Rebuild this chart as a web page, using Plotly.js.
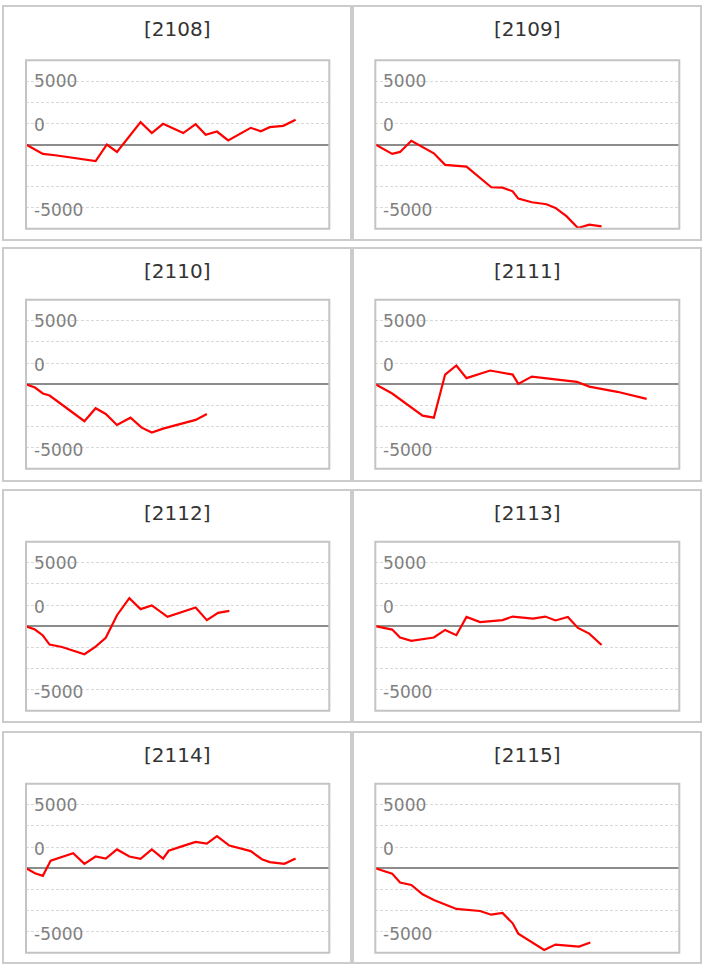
<!DOCTYPE html>
<html>
<head>
<meta charset="utf-8">
<script src="https://cdn.plot.ly/plotly-3.0.1.min.js"></script>
<style>
  html, body { margin: 0; padding: 0; background: #ffffff; }
  #chart { width: 704px; height: 968px; }
</style>
</head>
<body>
<div id="chart"></div>
<script>
// ---------------- DATA ----------------
const contracts = ["2108", "2109", "2110", "2111", "2112", "2113", "2114", "2115"];

const x2108 = [0, 1.5, 2.6, 6.2, 7.2, 8.1, 10.2, 11.2, 12.2, 14.0, 15.1, 16.0, 17.0, 18.0, 20.0, 20.9, 21.7, 22.9, 24.0];
const y2108 = [0, -560, -640, -990, 0, -440, 1330, 680, 1230, 680, 1210, 580, 770, 240, 990, 790, 1030, 1110, 1470];

const x2109 = [0, 1.5, 2.2, 3.2, 5.2, 6.2, 8.1, 10.3, 11.3, 12.2, 12.7, 13.9, 15.2, 16.0, 17.0, 18.0, 19.0, 20.1];
const y2109 = [0, -560, -440, 220, -520, -1210, -1310, -2540, -2560, -2780, -3210, -3430, -3550, -3770, -4270, -4960, -4760, -4860];

const x2110 = [0, 0.8, 1.5, 2.1, 4.0, 5.2, 6.2, 7.1, 8.1, 9.3, 10.3, 11.2, 12.2, 13.7, 15.1, 16.1];
const y2110 = [0, -200, -550, -670, -1600, -2190, -1420, -1760, -2410, -1980, -2570, -2860, -2630, -2350, -2110, -1760];

const x2111 = [0, 1.5, 4.2, 5.2, 6.2, 7.2, 8.1, 10.2, 12.2, 12.7, 13.9, 17.9, 19.0, 21.5, 24.1];
const y2111 = [0, -550, -1860, -1980, 570, 1110, 360, 810, 570, 20, 450, 140, -140, -450, -870];

const x2112 = [0, 0.8, 1.5, 2.1, 3.2, 5.2, 6.2, 7.1, 8.1, 9.2, 10.2, 11.2, 12.6, 15.1, 16.1, 17.1, 18.1];
const y2112 = [0, -200, -550, -1090, -1230, -1660, -1210, -690, 650, 1660, 1010, 1230, 550, 1110, 360, 790, 910];

const x2113 = [0, 1.5, 2.2, 3.2, 5.2, 6.2, 7.2, 8.1, 9.3, 11.3, 12.2, 14.0, 15.1, 16.0, 17.1, 18.0, 19.0, 20.1];
const y2113 = [0, -200, -670, -870, -670, -220, -530, 550, 240, 360, 570, 450, 570, 340, 550, -100, -440, -1110];

const x2114 = [0, 0.8, 1.5, 2.2, 4.2, 5.2, 6.2, 7.1, 8.1, 9.2, 10.2, 11.2, 12.2, 12.7, 14.0, 15.1, 16.1, 17.0, 18.1, 20.0, 21.0, 21.7, 23.0, 24.0];
const y2114 = [0, -300, -450, 450, 890, 260, 690, 570, 1110, 690, 550, 1110, 570, 1030, 1320, 1560, 1460, 1900, 1340, 1010, 530, 360, 260, 570];

const x2115 = [0, 1.5, 2.2, 3.2, 4.2, 5.2, 7.2, 9.3, 10.3, 11.3, 12.2, 12.7, 15.0, 16.0, 18.1, 19.1];
const y2115 = [0, -320, -850, -990, -1540, -1880, -2410, -2530, -2750, -2650, -3260, -3870, -4840, -4520, -4640, -4400];

const seriesX = [x2108, x2109, x2110, x2111, x2112, x2113, x2114, x2115];
const seriesY = [y2108, y2109, y2110, y2111, y2112, y2113, y2114, y2115];

const yTickLabels = ["5000", "0", "-5000"];

// ---------------- LAYOUT CONFIG ----------------
const W = 704, H = 968;
const labelPos = [3750, 1250, -3750];
const colX = [[26, 329.3], [375.3, 679.3]];
const rowY = [[60.3, 228.7], [299.7, 468.7], [541.7, 710.7], [783.7, 952.7]];
const panelX = [[3, 351], [353, 701]];
const panelY = [[6, 240], [248, 481], [490, 722], [732, 963]];
const FONT = "DejaVu Sans, Verdana, sans-serif";

const px = v => v / W;
const py = v => 1 - v / H;

const traces = [];
const shapes = [];
const annotations = [];
const layout = {
  width: W, height: H,
  margin: { l: 0, r: 0, t: 0, b: 0, pad: 0 },
  paper_bgcolor: "#ffffff",
  plot_bgcolor: "#ffffff",
  showlegend: false,
  shapes: shapes,
  annotations: annotations
};

contracts.forEach((name, i) => {
  const r = Math.floor(i / 2), c = i % 2;
  const xa = i === 0 ? "x" : "x" + (i + 1);
  const ya = i === 0 ? "y" : "y" + (i + 1);
  const xKey = i === 0 ? "xaxis" : "xaxis" + (i + 1);
  const yKey = i === 0 ? "yaxis" : "yaxis" + (i + 1);

  layout[xKey] = {
    domain: [px(colX[c][0]), px(colX[c][1])],
    range: [0, 27],
    anchor: ya,
    showgrid: false, zeroline: false, showline: false,
    showticklabels: false, ticks: "", fixedrange: true
  };
  layout[yKey] = {
    domain: [py(rowY[r][1]), py(rowY[r][0])],
    range: [-5000, 5000],
    anchor: xa,
    tick0: 0, dtick: 1250,
    showgrid: true, gridcolor: "#d9d9d9", gridwidth: 1, griddash: "3px,2px",
    zeroline: true, zerolinecolor: "#8c8c8c", zerolinewidth: 2,
    showline: false, showticklabels: false, ticks: "", fixedrange: true
  };

  traces.push({
    type: "scatter", mode: "lines",
    x: seriesX[i], y: seriesY[i],
    xaxis: xa, yaxis: ya,
    line: { color: "#ff0000", width: 2.2 },
    hoverinfo: "skip"
  });

  // outer panel frame
  shapes.push({
    type: "rect", xref: "paper", yref: "paper", layer: "below",
    x0: px(panelX[c][0]), x1: px(panelX[c][1]),
    y0: py(panelY[r][1]), y1: py(panelY[r][0]),
    line: { color: "#cccccc", width: 2 }, fillcolor: "rgba(0,0,0,0)"
  });
  // plot area frame
  shapes.push({
    type: "rect", xref: xa + " domain", yref: ya + " domain", layer: "above",
    x0: 0, x1: 1, y0: 0, y1: 1,
    line: { color: "#c4c4c4", width: 2 }, fillcolor: "rgba(0,0,0,0)"
  });

  // panel title
  annotations.push({
    xref: "paper", yref: "paper",
    x: px((panelX[c][0] + panelX[c][1]) / 2), y: py(panelY[r][0] + 23),
    xanchor: "center", yanchor: "middle",
    text: "[" + name + "]", showarrow: false,
    font: { family: FONT, size: 20, color: "#333333" }
  });

  // y labels as drawn inside the plot
  yTickLabels.forEach((t, k) => {
    annotations.push({
      xref: xa + " domain", yref: ya,
      x: 0, y: labelPos[k], xanchor: "left", yanchor: "middle",
      xshift: 6, yshift: k === 0 ? 0 : -2,
      text: t, showarrow: false,
      font: { family: FONT, size: 17, color: "#808080" }
    });
  });
});

Plotly.newPlot("chart", traces, layout, { displayModeBar: false, staticPlot: true });
</script>
</body>
</html>
